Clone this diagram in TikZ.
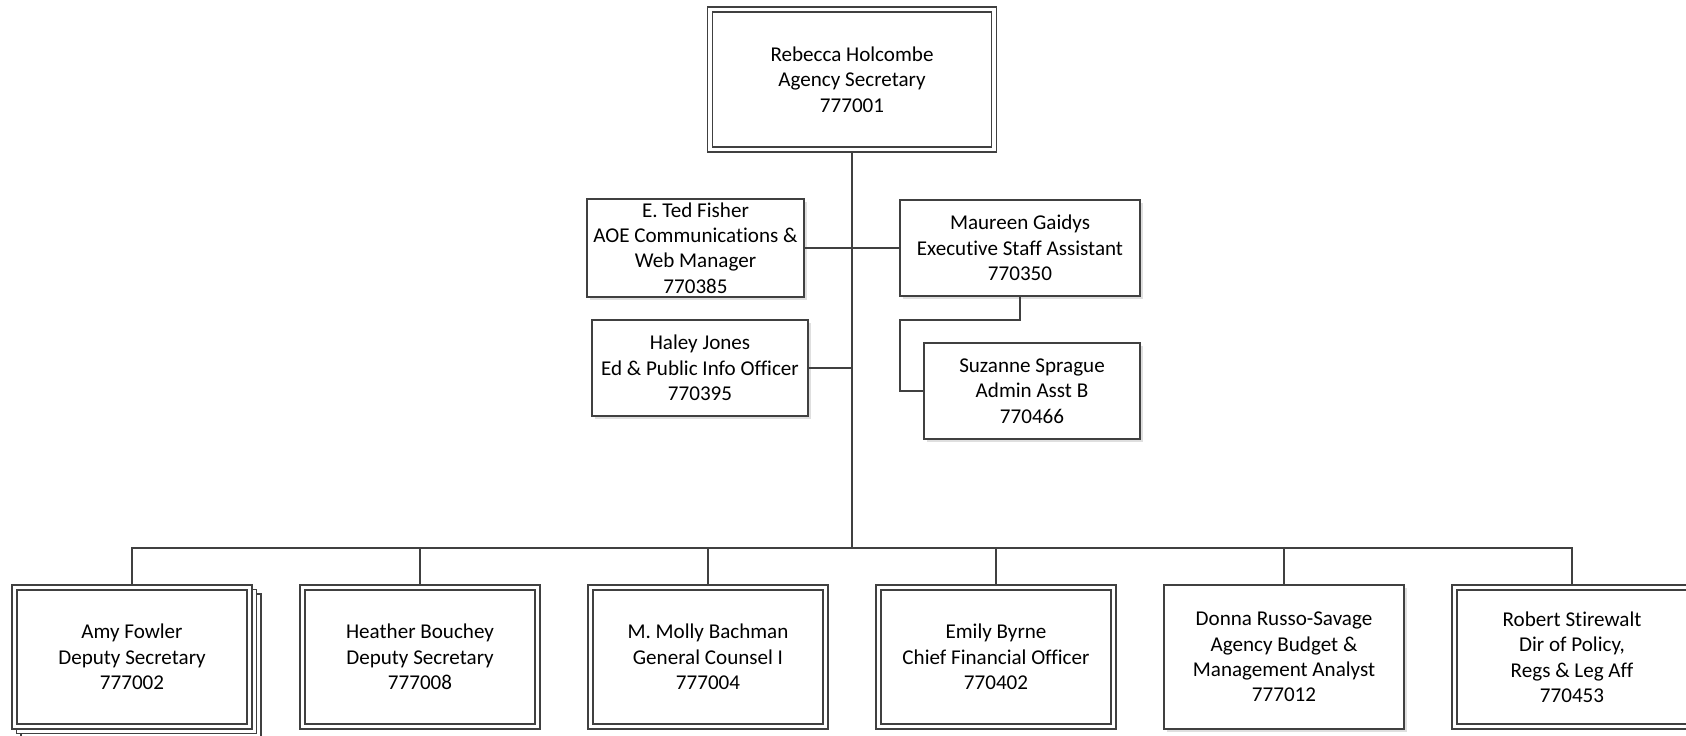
\documentclass[tikz,border=0pt]{standalone}
\usepackage{fontspec}
\setmainfont{Carlito}[Ligatures=NoCommon]
\usetikzlibrary{shadows}

\definecolor{linegray}{HTML}{404040}

\tikzset{
  box/.style={draw=linegray, line width=1.1pt, fill=white, align=center,
    inner sep=2pt, font=\fontsize{12}{14.5}\selectfont,
    drop shadow={shadow xshift=1.5pt, shadow yshift=-1.5pt, opacity=0.25, fill=gray}},
  dbox/.style={box, double=white, line width=0.9pt, double distance=1.8pt,
    outer sep=1.8pt},
  card/.style={draw=linegray, line width=1.1pt, fill=white,
    minimum width=4.8cm, minimum height=2.88cm},
  link/.style={draw=linegray, line width=1.1pt},
}

\begin{document}
\begin{tikzpicture}[x=0.02cm, y=-0.02cm]
    \useasboundingbox (0,0) rectangle (1686,735);

    % head of the agency
    \node[dbox, minimum width=5.68cm, minimum height=2.80cm] (top) at (852,79.5)
        {Rebecca Holcombe\\Agency Secretary\\777001};

    % staff beside the trunk
    \node[box, minimum width=4.34cm, minimum height=1.92cm] (ted) at (695.5,248)
        {E. Ted Fisher\\AOE Communications \&\\Web Manager\\770385};
    \node[box, minimum width=4.32cm, minimum height=1.92cm] (haley) at (700,368)
        {Haley Jones\\Ed \& Public Info Officer\\770395};
    \node[box, minimum width=4.80cm, minimum height=1.92cm] (maureen) at (1020,248)
        {Maureen Gaidys\\Executive Staff Assistant\\770350};
    \node[box, minimum width=4.32cm, minimum height=1.92cm] (suzanne) at (1032,391)
        {Suzanne Sprague\\Admin Asst B\\770466};

    % stacked cards behind Amy
    \node[card] (amyback2) at (141,666) {};
    \node[card] (amyback1) at (136.5,661.5) {};

    % direct reports
    \node[dbox, minimum width=4.70cm, minimum height=2.78cm] (amy) at (132,657)
        {Amy Fowler\\Deputy Secretary\\777002};
    \node[dbox, minimum width=4.70cm, minimum height=2.78cm] (heather) at (420,657)
        {Heather Bouchey\\Deputy Secretary\\777008};
    \node[dbox, minimum width=4.70cm, minimum height=2.78cm] (molly) at (708,657)
        {M. Molly Bachman\\General Counsel I\\777004};
    \node[dbox, minimum width=4.70cm, minimum height=2.78cm] (emily) at (996,657)
        {Emily Byrne\\Chief Financial Officer\\770402};
    \node[box, minimum width=4.80cm, minimum height=2.88cm] (donna) at (1284,657)
        {Donna Russo-Savage\\Agency Budget \&\\Management Analyst\\777012};
    \node[dbox, minimum width=4.70cm, minimum height=2.78cm] (robert) at (1572,657)
        {Robert Stirewalt\\Dir of Policy,\\Regs \& Leg Aff\\770453};

    \coordinate (bus) at (852,548);
    \coordinate (elbow) at (900,320);

    \draw[link] (top.south) -- (bus);
    \draw[link] (ted.east) -- (maureen.west);
    \draw[link] (haley.east) -- (haley.east -| top.south);
    \draw[link] (maureen.south) |- (elbow) |- (suzanne.west);
    \foreach \n in {amy,heather,molly,emily,donna,robert}
        \draw[link] (bus) -| (\n.north);

\end{tikzpicture}
\end{document}
